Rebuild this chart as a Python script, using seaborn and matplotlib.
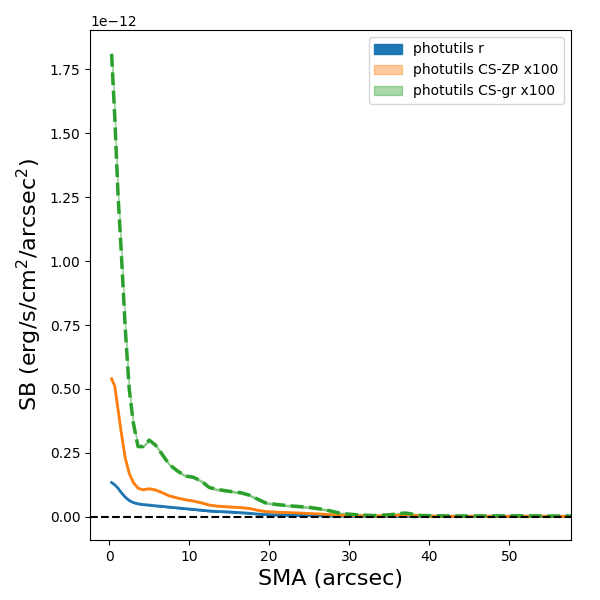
import numpy as np
import pandas as pd
import matplotlib
matplotlib.use("Agg")
import matplotlib.pyplot as plt
import seaborn as sns

# SMA grid (arcsec), shared by all three profiles
sma = [0.3, 0.7, 1.1, 1.5, 2.0, 2.5, 3.0, 3.6, 4.2, 5.0, 5.8, 6.6, 7.5, 8.5,
       9.5, 10.5, 11.5, 12.5, 13.5, 15.0, 16.5, 17.5, 18.5, 19.5, 21.0, 23.0,
       25.0, 27.0, 29.0, 31.0, 33.0, 35.0, 37.0, 39.0, 41.0, 45.0, 50.0, 55.0, 60.0]

# surface brightness, units of 1e-12 erg/s/cm^2/arcsec^2
sb_r = [0.134, 0.125, 0.112, 0.095, 0.077, 0.064, 0.056, 0.051, 0.048, 0.046,
        0.043, 0.041, 0.038, 0.035, 0.032, 0.029, 0.026, 0.023, 0.021, 0.019,
        0.016, 0.014, 0.011, 0.009, 0.007, 0.006, 0.005, 0.004, 0.003, 0.002,
        0.002, 0.002, 0.002, 0.002, 0.002, 0.002, 0.002, 0.002, 0.002]
sb_zp = [0.54, 0.51, 0.42, 0.33, 0.23, 0.17, 0.135, 0.112, 0.106, 0.110,
         0.105, 0.095, 0.082, 0.074, 0.067, 0.062, 0.055, 0.046, 0.042, 0.039,
         0.036, 0.033, 0.026, 0.021, 0.018, 0.016, 0.013, 0.010, 0.006, 0.004,
         0.003, 0.004, 0.007, 0.003, 0.002, 0.002, 0.002, 0.002, 0.002]
sb_gr = [1.81, 1.56, 1.26, 1.04, 0.74, 0.50, 0.37, 0.275, 0.275, 0.300,
         0.280, 0.245, 0.205, 0.180, 0.160, 0.155, 0.140, 0.115, 0.107, 0.100,
         0.094, 0.085, 0.070, 0.055, 0.048, 0.042, 0.037, 0.028, 0.013, 0.008,
         0.005, 0.008, 0.015, 0.005, 0.004, 0.003, 0.004, 0.003, 0.003]

labels = ["photutils r", "photutils CS-ZP x100", "photutils CS-gr x100"]
err = [0.001, 0.002, 0.003]

df = pd.DataFrame({"sma": sma, "r": np.array(sb_r) * 1e-12,
                   "zp": np.array(sb_zp) * 1e-12, "gr": np.array(sb_gr) * 1e-12})

fig, ax = plt.subplots(figsize=(6, 6), dpi=100)
fig.subplots_adjust(left=0.15, right=0.952, top=0.95, bottom=0.1)

# error bands (these give the legend patches)
ax.fill_between(df.sma, df.r - err[0] * 1e-12, df.r + err[0] * 1e-12,
                color="C0", alpha=1.0, label=labels[0])
ax.fill_between(df.sma, df.zp - err[1] * 1e-12, df.zp + err[1] * 1e-12,
                color="C1", alpha=0.4, label=labels[1])
ax.fill_between(df.sma, df.gr - err[2] * 1e-12, df.gr + err[2] * 1e-12,
                color="C2", alpha=0.4, label=labels[2])

sns.lineplot(data=df, x="sma", y="r", ax=ax, color="C0", lw=2, legend=False)
sns.lineplot(data=df, x="sma", y="zp", ax=ax, color="C1", lw=2, legend=False)
sns.lineplot(data=df, x="sma", y="gr", ax=ax, color="C2", lw=2.5,
             linestyle="--", legend=False)

ax.axhline(0, color="k", ls="--", lw=1.5)

ax.set_xlim(-2.4, 57.75)
ax.set_xlabel("SMA (arcsec)", fontsize=16)
ax.set_ylabel(r"SB (erg/s/cm$^2$/arcsec$^2$)", fontsize=16)
ax.legend(loc="upper right")

plt.savefig("out.png")
